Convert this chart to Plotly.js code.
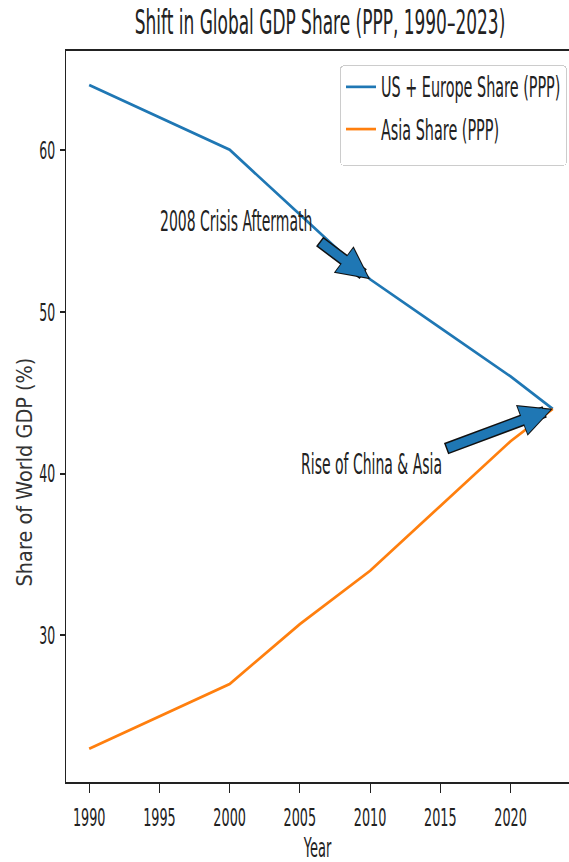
<!DOCTYPE html>
<html>
<head>
<meta charset="utf-8">
<script src="https://cdn.plot.ly/plotly-3.0.1.min.js"></script>
<style>
  html, body { margin: 0; padding: 0; background: #fff; }
  #chart { width: 569px; height: 862px; }
</style>
</head>
<body>
<div id="chart"></div>
<script>
// ---- data ----
const years = [1990, 1995, 2000, 2005, 2010, 2015, 2020, 2023];
const usEuropeShare = [64, 62, 60, 56, 52, 49, 46, 44];
const asiaShare = [23, 25, 27, 30.7, 34, 38, 42, 44];
const seriesNames = ["US + Europe Share (PPP)", "Asia Share (PPP)"];
const xTickVals = [1990, 1995, 2000, 2005, 2010, 2015, 2020];
const yTickVals = [30, 40, 50, 60];
const titleText = "Shift in Global GDP Share (PPP, 1990–2023)";
const xTitle = "Year";
const yTitle = "Share of World GDP (%)";
const noteTexts = ["2008 Crisis Aftermath", "Rise of China & Asia"];
const noteTextPos = [[1995, 55.6], [2005, 40.6]];     // where label text sits
const noteArrowTail = [[2006.3, 54.4], [2015.3, 41.5]]; // arrow tails
const noteArrowHeadIdx = [4, 7];                          // points on US+Europe line

// ---- style ----
const FONT = "DejaVu Sans";
const TXT = "#222222";
const BLUE = "#1f77b4";
const ORANGE = "#ff7f0e";
const SY = 2.0; // vertical text stretch of the reference

const traces = [
  { x: years, y: usEuropeShare, type: "scatter", mode: "lines", name: seriesNames[0],
    line: { color: BLUE, width: 2.7 }, legendgroup: "a" },
  { x: years, y: asiaShare, type: "scatter", mode: "lines", name: seriesNames[1],
    line: { color: ORANGE, width: 2.7 }, legendgroup: "b" }
];

const annotations = [];
noteTexts.forEach((t, i) => {
  const hx = years[noteArrowHeadIdx[i]], hy = usEuropeShare[noteArrowHeadIdx[i]];
  // black outline arrow
  annotations.push({ x: hx, y: hy, ax: noteArrowTail[i][0], ay: noteArrowTail[i][1],
    xref: "x", yref: "y", axref: "x", ayref: "y", text: "", showarrow: true,
    arrowhead: 2, arrowsize: 0.55, arrowwidth: 12, arrowcolor: "#111111" });
  // blue fill arrow
  annotations.push({ x: hx, y: hy, ax: noteArrowTail[i][0], ay: noteArrowTail[i][1],
    xref: "x", yref: "y", axref: "x", ayref: "y", text: "", showarrow: true,
    arrowhead: 2, arrowsize: 0.66, arrowwidth: 9, arrowcolor: BLUE,
    standoff: 2.4, startstandoff: 1.5 });
  annotations.push({ x: noteTextPos[i][0], y: noteTextPos[i][1], xref: "x", yref: "y",
    text: t, showarrow: false, xanchor: "left", yanchor: "middle", borderpad: 0,
    font: { family: FONT, size: 14, color: TXT } });
});

const layout = {
  width: 569, height: 862,
  margin: { l: 66, r: 0, t: 51, b: 80, pad: 0 },
  paper_bgcolor: "#ffffff", plot_bgcolor: "#ffffff",
  font: { family: FONT, color: TXT },
  title: { text: titleText, font: { family: FONT, size: 17, color: TXT },
    x: 0.5624, xref: "container", xanchor: "center",
    y: 1 - 22 / 862, yref: "container", yanchor: "middle" },
  xaxis: {
    range: [1988.35, 2024.16], tickvals: xTickVals, ticktext: xTickVals.map(String),
    showgrid: false, zeroline: false, showline: true, mirror: true,
    linecolor: TXT, linewidth: 2, ticks: "outside", ticklen: 9, tickwidth: 1.2,
    tickcolor: TXT, tickfont: { family: FONT, size: 12.8, color: TXT },
    ticklabelstandoff: 13,
    title: { text: xTitle, font: { family: FONT, size: 13, color: TXT }, standoff: 20 }
  },
  yaxis: {
    range: [20.95, 66.1], tickvals: yTickVals, ticktext: yTickVals.map(String),
    showgrid: false, zeroline: false, showline: true, mirror: false,
    linecolor: TXT, linewidth: 1.4, ticks: "outside", ticklen: 5, tickwidth: 2,
    tickcolor: TXT, tickfont: { family: FONT, size: 12.5, color: TXT },
    ticklabelstandoff: 2,
    title: { text: yTitle, font: { family: FONT, size: 19.3, color: "#333333" }, standoff: 6 }
  },
  showlegend: true,
  legend: {
    x: (340 - 66) / 503, xanchor: "left", y: 1 - (70 - 51) / 731, yanchor: "top",
    bgcolor: "#ffffff", bordercolor: "#cccccc", borderwidth: 1,
    font: { family: FONT, size: 14.4, color: TXT }, tracegroupgap: 20.5,
    itemwidth: 30
  },
  annotations: annotations
};

function stretchTexts(gd) {
  gd.querySelectorAll(".main-svg text").forEach(t => {
    if (!t.textContent.trim()) return;
    const bb = t.getBBox();
    const cx = bb.x + bb.width / 2, cy = bb.y + bb.height / 2;
    const old = t.getAttribute("transform") || "";
    const s = t.closest(".g-ytitle") ? 1.1 : SY;
    t.setAttribute("transform",
      old + " translate(" + cx + "," + cy + ") scale(1," + s + ") translate(" + (-cx) + "," + (-cy) + ")");
  });
}

function placeYTitle(gd) {
  const g = gd.querySelector(".g-ytitle");
  if (!g) return;
  const r = g.getBoundingClientRect();
  const box = gd.getBoundingClientRect();
  const cx = r.left - box.left + r.width / 2, cy = r.top - box.top + r.height / 2;
  g.setAttribute("transform", "translate(" + (25 - cx) + "," + (472 - cy) + ")");
}

function padLegend(gd) {
  const bg = gd.querySelector(".legend .bg");
  if (!bg) return;
  const y = parseFloat(bg.getAttribute("y") || 0);
  const h = parseFloat(bg.getAttribute("height"));
  bg.setAttribute("y", y - 5);
  bg.setAttribute("height", h + 25);
  bg.setAttribute("rx", 4); bg.setAttribute("ry", 4);
}

const gd = document.getElementById("chart");
Plotly.newPlot(gd, traces, layout, { staticPlot: true, responsive: false, displayModeBar: false })
  .then(() => { stretchTexts(gd); placeYTitle(gd); padLegend(gd); });
</script>
</body>
</html>
